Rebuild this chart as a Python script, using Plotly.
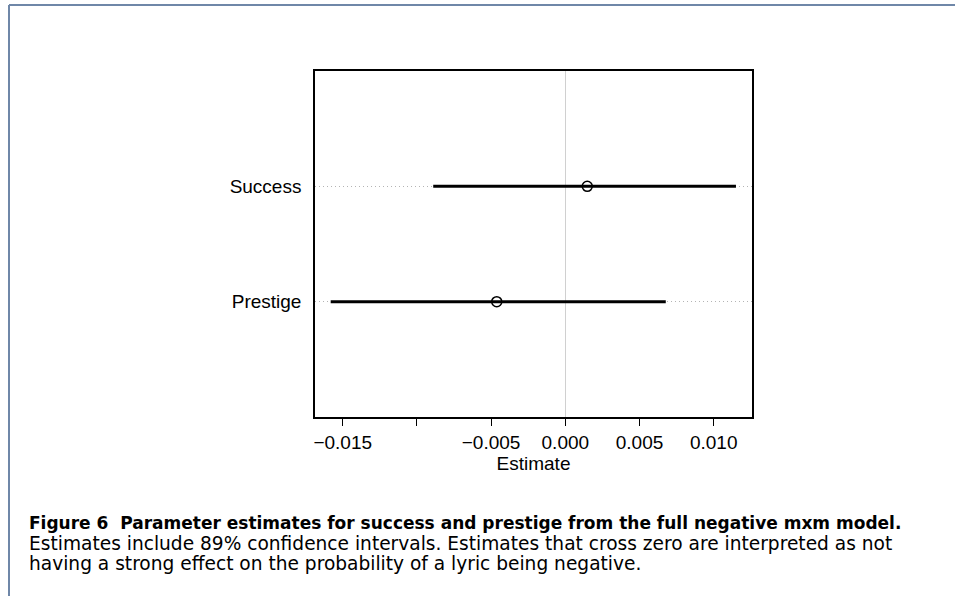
import plotly.graph_objects as go

# ---- data ----
params = ["Prestige", "Success"]
estimates = [-0.00462, 0.00148]
lower = [-0.01581, -0.00890]
upper = [0.00677, 0.01150]
xtick_vals = [-0.015, -0.010, -0.005, 0.000, 0.005, 0.010]
xtick_text = ["\u22120.015", "", "\u22120.005", "0.000", "0.005", "0.010"]
caption_bold = "Figure 6  Parameter estimates for success and prestige from the full negative mxm model."
caption_lines = [
    "Estimates include 89% confidence intervals. Estimates that cross zero are interpreted as not",
    "having a strong effect on the probability of a lyric being negative.",
]

W, H = 955, 596
L, R, T, B = 315, 203, 71, 179
pw, ph = W - L - R, H - T - B

def px(x):
    return (x - L) / pw

def py(y):
    return (H - B - y) / ph

ypos = list(range(1, len(params) + 1))

fig = go.Figure()
for i, name in enumerate(params):
    fig.add_trace(go.Scatter(
        x=[lower[i], upper[i]], y=[ypos[i], ypos[i]], mode="lines",
        line=dict(color="black", width=3), showlegend=False, hoverinfo="skip"))
fig.add_trace(go.Scatter(
    x=estimates, y=ypos, mode="markers",
    marker=dict(symbol="circle-open", size=10, color="black", line=dict(width=1.5, color="black")),
    showlegend=False))

font_chart = "Liberation Sans, Arial, sans-serif"
fig.update_layout(
    width=W, height=H,
    margin=dict(l=L, r=R, t=T, b=B, pad=0),
    paper_bgcolor="white", plot_bgcolor="white",
    font=dict(family=font_chart, size=19, color="black"),
    xaxis=dict(
        range=[-0.016867, 0.012581], tickvals=xtick_vals, ticktext=xtick_text,
        ticks="outside", ticklen=7, tickwidth=1, tickcolor="black",
        showline=True, linecolor="black", linewidth=1.5, mirror=True,
        showgrid=False, zeroline=True, zerolinecolor="#d0d0d0", zerolinewidth=1,
        title=dict(text="Estimate", standoff=4, font=dict(size=19)),
        tickfont=dict(size=19),
    ),
    yaxis=dict(
        range=[0, 3], tickvals=ypos, ticktext=params,
        ticks="", showline=True, linecolor="black", linewidth=1.5, mirror=True,
        showgrid=True, gridcolor="#b4b4b4", griddash="1px,3px", gridwidth=1,
        zeroline=False, ticklabelstandoff=8, tickfont=dict(size=19),
    ),
)

frame_color = "#6f87a8"
fig.add_shape(type="line", xref="paper", yref="paper",
              x0=px(9), x1=px(956), y0=py(5), y1=py(5),
              line=dict(color=frame_color, width=2))
fig.add_shape(type="line", xref="paper", yref="paper",
              x0=px(9), x1=px(9), y0=py(5), y1=py(597),
              line=dict(color=frame_color, width=2))

cap_font = "DejaVu Sans, sans-serif"
fig.add_annotation(xref="paper", yref="paper", x=px(27), y=py(523),
                   xanchor="left", yanchor="middle", showarrow=False,
                   text="<b>" + caption_bold + "</b>",
                   font=dict(family=cap_font, size=17, color="black"))
for k, line in enumerate(caption_lines):
    fig.add_annotation(xref="paper", yref="paper", x=px(27), y=py(543 + 20 * k),
                       xanchor="left", yanchor="middle", showarrow=False,
                       text=line, font=dict(family=cap_font, size=18.6, color="black"))

fig.write_html("out.html", config={"displayModeBar": False},
               post_script="document.body.style.margin='0px';document.body.style.overflow='hidden';")
